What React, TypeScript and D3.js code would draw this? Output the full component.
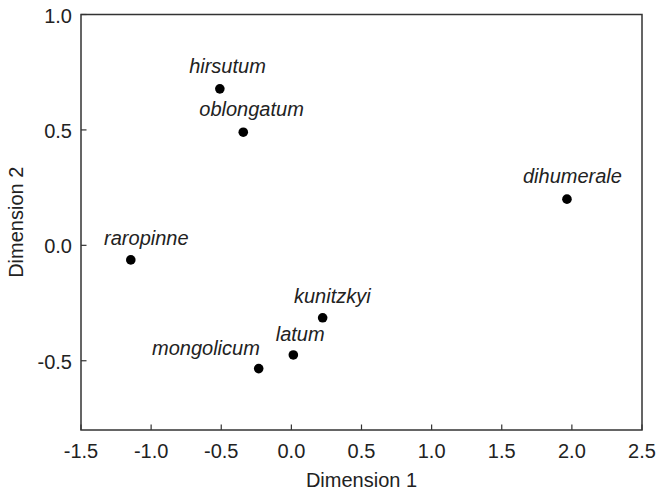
import React, { useEffect } from "react";
import * as d3 from "d3";

const species = ["hirsutum", "oblongatum", "kunitzkyi", "latum", "mongolicum", "raropinne", "dihumerale"];
const dim1 = [-0.51, -0.343, 0.223, 0.014, -0.233, -1.145, 1.965];
const dim2 = [0.678, 0.49, -0.314, -0.475, -0.534, -0.063, 0.2];
const xTicks = [-1.5, -1.0, -0.5, 0.0, 0.5, 1.0, 1.5, 2.0, 2.5];
const yTicks = [1.0, 0.5, 0.0, -0.5];

const LABEL_OFFSETS: Record<string, [number, number]> = {
  hirsutum: [-30.7, -15.6],
  oblongatum: [-44, -16.5],
  kunitzkyi: [-28.7, -15],
  latum: [-17.6, -14.3],
  mongolicum: [-106.7, -14],
  raropinne: [-26.7, -15],
  dihumerale: [-44, -16.5],
};

const W = 657;
const H = 491;
const FONT = "'Liberation Sans', Arial, sans-serif";

const fmt = d3.formatLocale({
  decimal: ".",
  thousands: ",",
  grouping: [3],
  currency: ["", ""],
  minus: "-",
}).format(".1f");

export default function App() {
  useEffect(() => {
    document.body.style.margin = "0";
  }, []);

  const x = d3.scaleLinear().domain([-1.5, 2.5]).range([81, 642]);
  const y = d3.scaleLinear().domain([-0.8, 1.0]).range([430, 14.5]);
  const [x0, x1] = x.range();
  const [yb, yt] = y.range();
  const stroke = "#333";
  const textColor = "#222";

  return (
    <svg width={W} height={H} style={{ display: "block", background: "#fff" }} fontFamily={FONT}>
      <rect x={x0} y={yt} width={x1 - x0} height={yb - yt} fill="none" stroke={stroke} strokeWidth={1.5} />
      {xTicks.map((t) => (
        <g key={"x" + t}>
          <line x1={x(t)} x2={x(t)} y1={yb} y2={yb - 5.5} stroke={stroke} strokeWidth={1.2} />
          <text x={x(t)} y={457.5} textAnchor="middle" fontSize={20} fill={textColor}>
            {fmt(t)}
          </text>
        </g>
      ))}
      {yTicks.map((t) => (
        <g key={"y" + t}>
          <line x1={x0} x2={x0 + 5.5} y1={y(t)} y2={y(t)} stroke={stroke} strokeWidth={1.2} />
          <text x={72} y={y(t) + 8} textAnchor="end" fontSize={20} fill={textColor}>
            {fmt(t)}
          </text>
        </g>
      ))}
      <text x={(x0 + x1) / 2} y={487} textAnchor="middle" fontSize={20} fill={textColor}>
        Dimension 1
      </text>
      <text
        transform={`translate(22.5, ${(yb + yt) / 2}) rotate(-90)`}
        textAnchor="middle"
        fontSize={20}
        fill={textColor}
      >
        Dimension 2
      </text>
      {species.map((s, i) => {
        const cx = x(dim1[i]);
        const cy = y(dim2[i]);
        const [dx, dy] = LABEL_OFFSETS[s];
        return (
          <g key={s}>
            <circle cx={cx} cy={cy} r={4.8} fill="#000" />
            <text x={cx + dx} y={cy + dy} fontSize={20} fontStyle="italic" fill={textColor}>
              {s}
            </text>
          </g>
        );
      })}
    </svg>
  );
}
